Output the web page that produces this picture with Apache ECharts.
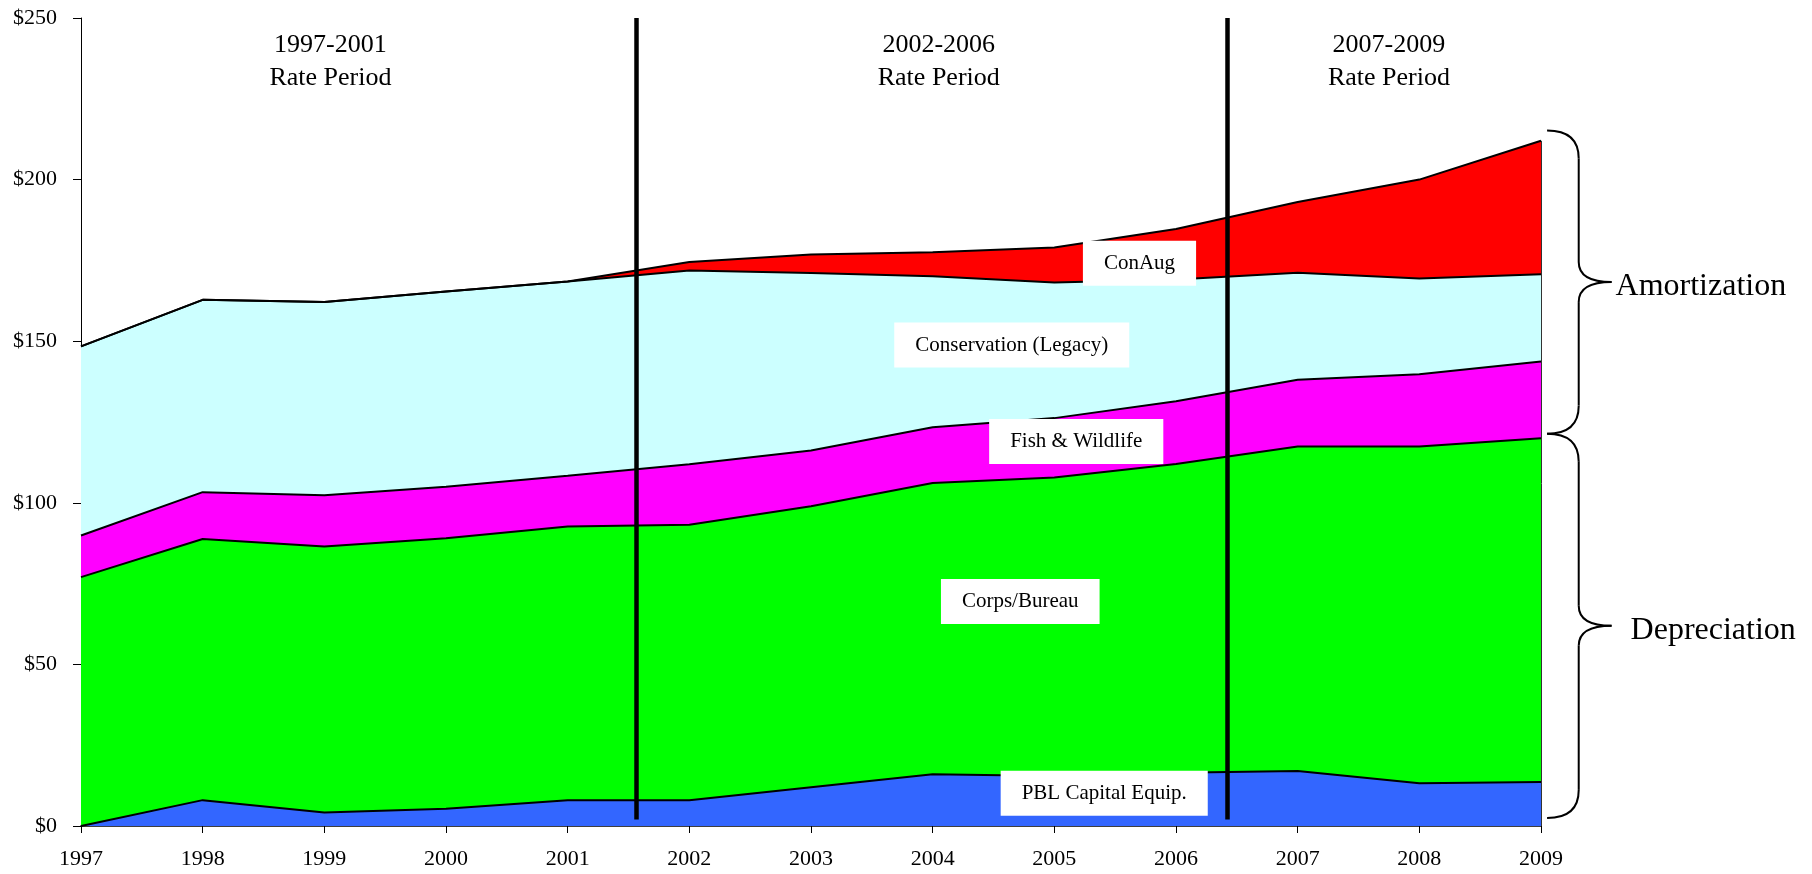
<!DOCTYPE html>
<html><head><meta charset="utf-8">
<script src="https://cdn.jsdelivr.net/npm/echarts@6/dist/echarts.min.js"></script>
<style>html,body{margin:0;padding:0;background:#fff}#c{width:1812px;height:874px}</style>
</head><body><div id="c"></div>
<script>
// ---- data ----
const years = [1997,1998,1999,2000,2001,2002,2003,2004,2005,2006,2007,2008,2009];
const pblCapitalEquip    = [0, 8.0, 4.2, 5.3, 8.0, 8.0, 12.0, 16.0, 15.5, 16.5, 17.0, 13.2, 13.6];
const corpsBureau        = [77.0, 80.8, 82.3, 83.7, 84.7, 85.2, 86.9, 90.1, 92.3, 95.5, 100.4, 104.2, 106.4];
const fishWildlife       = [12.9, 14.5, 15.8, 16.0, 15.7, 18.7, 17.3, 17.3, 18.4, 19.4, 20.7, 22.4, 23.7];
const conservationLegacy = [58.5, 59.5, 59.8, 60.4, 60.1, 60.0, 54.9, 46.7, 42.0, 37.7, 33.1, 29.6, 27.0];
const conAug             = [0, 0, 0, 0, 0, 2.6, 5.7, 7.4, 10.8, 15.6, 21.9, 30.6, 41.3];
const seriesNames = ['PBL Capital Equip.', 'Corps/Bureau', 'Fish & Wildlife', 'Conservation (Legacy)', 'ConAug'];
const yTickValues = [0, 50, 100, 150, 200, 250];
const periodTitles = ['1997-2001', '2002-2006', '2007-2009'];
const periodSub = 'Rate Period';
const periodBoundaries = [2001.56, 2006.42];
const groupNames = ['Amortization', 'Depreciation'];

// ---- annotation placement (data coordinates) ----
const periodCenters = [1999.05, 2004.05, 2007.75];
const labelAnchors = [[2005.41, 10.1], [2004.72, 69.5], [2005.18, 119.0], [2004.65, 148.8], [2005.70, 174.1]];
const braceSpans = [[215.2, 121.4], [121.4, 2.5]];

const FONT = '"Liberation Serif", "Times New Roman", serif';
const colors = ['#3366FF', '#00FF00', '#FF00FF', '#CCFFFF', '#FF0000'];
const allValues = [pblCapitalEquip, corpsBureau, fishWildlife, conservationLegacy, conAug];
const totalLast = allValues.reduce((s, a) => s + a[a.length - 1], 0);
const firstYear = years[0], lastYear = years[years.length - 1];

const chart = echarts.init(document.getElementById('c'), null, {renderer: 'canvas'});

const series = allValues.map((vals, i) => ({
  name: seriesNames[i],
  type: 'line',
  stack: 'total',
  xAxisIndex: 0,
  data: vals,
  showSymbol: false,
  symbol: 'none',
  lineStyle: {color: '#000', width: 2},
  areaStyle: {color: colors[i], opacity: 1},
  itemStyle: {color: colors[i]},
  emphasis: {disabled: true},
  z: 2
}));

series.push({
  type: 'line',
  xAxisIndex: 1,
  data: [],
  z: 5,
  silent: true,
  markLine: {
    silent: true,
    symbol: 'none',
    label: {show: false},
    animation: false,
    data: periodBoundaries.map(x => [
      {coord: [x, 2], lineStyle: {color: '#000', width: 4.5, type: 'solid'}},
      {coord: [x, yTickValues[yTickValues.length - 1]]}
    ]).concat([[
      {coord: [lastYear, 0], lineStyle: {color: '#333', width: 1, type: 'solid'}},
      {coord: [lastYear, totalLast]}
    ]])
  }
});

chart.setOption({
  animation: false,
  backgroundColor: '#fff',
  grid: {left: 81, right: 271, top: 18, bottom: 48, containLabel: false},
  xAxis: [{
    type: 'category',
    data: years.map(String),
    boundaryGap: false,
    splitLine: {show: false},
    axisLine: {show: true, onZero: false, lineStyle: {color: '#000', width: 1.5}},
    axisTick: {show: true, length: 7, interval: 0, lineStyle: {color: '#000'}},
    axisLabel: {color: '#000', fontFamily: FONT, fontSize: 22, margin: 22, interval: 0}
  }, {
    type: 'value',
    min: firstYear, max: lastYear,
    show: false
  }],
  yAxis: {
    type: 'value',
    min: yTickValues[0], max: yTickValues[yTickValues.length - 1], interval: 50,
    splitLine: {show: false},
    axisLine: {show: true, lineStyle: {color: '#000', width: 1}},
    axisTick: {show: true, length: 8, lineStyle: {color: '#000'}},
    axisLabel: {color: '#000', fontFamily: FONT, fontSize: 22, margin: 24, formatter: v => '$' + v}
  },
  series: series
});

function px(x, y) { return chart.convertToPixel({xAxisIndex: 1, yAxisIndex: 0}, [x, y]); }

const graphics = [];
// period titles
periodCenters.forEach((cx, i) => {
  const p1 = px(cx, 241.5), p2 = px(cx, 231.4);
  [[periodTitles[i], p1], [periodSub, p2]].forEach(([t, p]) => {
    graphics.push({type: 'text', x: p[0], y: p[1], z: 10,
      style: {text: t, font: '26px ' + FONT, fill: '#000', textAlign: 'center', textVerticalAlign: 'middle', align: 'center', verticalAlign: 'middle'}});
  });
});
// series labels in white boxes
labelAnchors.forEach((a, i) => {
  const p = px(a[0], a[1]);
  graphics.push({type: 'text', x: p[0], y: p[1], z: 10,
    style: {text: seriesNames[i], font: '21px ' + FONT, fill: '#000',
      textAlign: 'center', textVerticalAlign: 'middle', align: 'center', verticalAlign: 'middle',
      backgroundColor: '#fff', padding: [11, 21, 11, 21], lineHeight: 23}});
});
// braces
const bx0 = px(lastYear + 0.05, 0)[0], bxs = px(lastYear + 0.31, 0)[0], bxt = px(lastYear + 0.58, 0)[0];
const bStyle = {stroke: '#000', lineWidth: 2, fill: null};
function brace(y0, y1) {
  const ym = (y0 + y1) / 2, r1 = 28, r2 = 20;
  return [
    {type: 'bezierCurve', shape: {x1: bx0, y1: y0, cpx1: bxs, cpy1: y0, x2: bxs, y2: y0 + r1}, style: bStyle},
    {type: 'line', shape: {x1: bxs, y1: y0 + r1, x2: bxs, y2: ym - r2}, style: bStyle},
    {type: 'bezierCurve', shape: {x1: bxs, y1: ym - r2, cpx1: bxs, cpy1: ym, x2: bxt, y2: ym}, style: bStyle},
    {type: 'bezierCurve', shape: {x1: bxt, y1: ym, cpx1: bxs, cpy1: ym, x2: bxs, y2: ym + r2}, style: bStyle},
    {type: 'line', shape: {x1: bxs, y1: ym + r2, x2: bxs, y2: y1 - r1}, style: bStyle},
    {type: 'bezierCurve', shape: {x1: bxs, y1: y1 - r1, cpx1: bxs, cpy1: y1, x2: bx0, y2: y1}, style: bStyle}
  ];
}
const textOffsets = [4, 19];
braceSpans.forEach((s, i) => {
  const y0 = px(lastYear, s[0])[1], y1 = px(lastYear, s[1])[1];
  brace(y0, y1).forEach(g => { g.z = 10; graphics.push(g); });
  graphics.push({type: 'text', x: bxt + textOffsets[i], y: (y0 + y1) / 2 + 5, z: 10,
    style: {text: groupNames[i], font: '32px ' + FONT, fill: '#000', textAlign: 'left', textVerticalAlign: 'middle', align: 'left', verticalAlign: 'middle'}});
});

chart.setOption({graphic: {elements: graphics}});
</script>
</body></html>
